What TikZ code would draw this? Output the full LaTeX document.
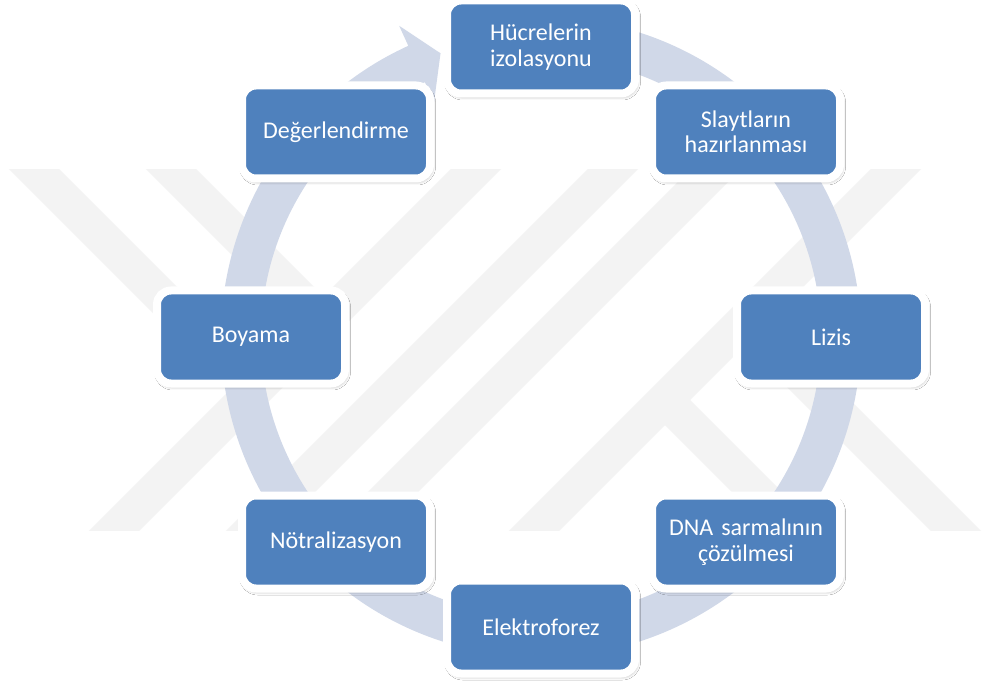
\documentclass[tikz,border=0pt]{standalone}
\usepackage{fontspec}
\setmainfont{Carlito}
\usetikzlibrary{shadows.blur}
\definecolor{boxblue}{RGB}{79,129,189}
\definecolor{ringcol}{RGB}{208,216,232}
\definecolor{wmcol}{RGB}{243,243,243}
\tikzset{
  stepbox/.style={rectangle, rounded corners=14pt, fill=boxblue, draw=white,
    line width=8pt, minimum width=188pt, minimum height=93pt, text width=174pt,
    align=center, text=white, inner sep=0pt,
    font=\fontsize{24}{25.5}\selectfont,
    blur shadow={shadow xshift=1.5pt, shadow yshift=-2.5pt, shadow blur radius=4pt, shadow opacity=40}},
  wmstripe/.style={draw=wmcol, line width=35.4pt, line cap=butt}
}
\begin{document}
\begin{tikzpicture}[x=1pt,y=1pt]
\useasboundingbox (0,0) rectangle (984,686);
\fill[white] (0,0) rectangle (984,686);
% watermark
\begin{scope}
  \clip (0,156) rectangle (984,516);
  \draw[wmstripe] (15,536) -- (255,296);
  \draw[wmstripe] (152,536) -- (323,365);
  \draw[wmstripe] (495,536) -- (95,136);
  \draw[wmstripe] (632,536) -- (232,136);
  \draw[wmstripe] (735,536) -- (335,136);
  \draw[wmstripe] (915,536) -- (515,136);
  \draw[wmstripe] (665,286) -- (815,136);
  \draw[wmstripe] (745,366) -- (975,136);
\end{scope}
% cycle ring with arrow head
\begin{scope}[shift={(541,349)}]
  \fill[ringcol] (75:320) arc[start angle=75, end angle=-245.5, radius=320]
    -- (114.5:342) -- (109.5:301) -- (114.5:258) -- (114.5:280)
    arc[start angle=-245.5, end angle=75, radius=280] -- cycle;
\end{scope}
% steps
\node[stepbox] (n1) at (541,639) {Hücrelerin\\izolasyonu};
\node[stepbox] (n2) at (746,554) {Slaytların\\hazırlanması};
\node[stepbox] (n3) at (831,349) {Lizis};
\node[stepbox] (n4) at (746,144) {DNA sarmalının\\çözülmesi};
\node[stepbox] (n5) at (541,59) {Elektroforez};
\node[stepbox] (n6) at (336,144) {Nötralizasyon};
\node[stepbox] (n7) at (251,349) {Boyama};
\node[stepbox] (n8) at (336,554) {Değerlendirme};
\end{tikzpicture}
\end{document}
